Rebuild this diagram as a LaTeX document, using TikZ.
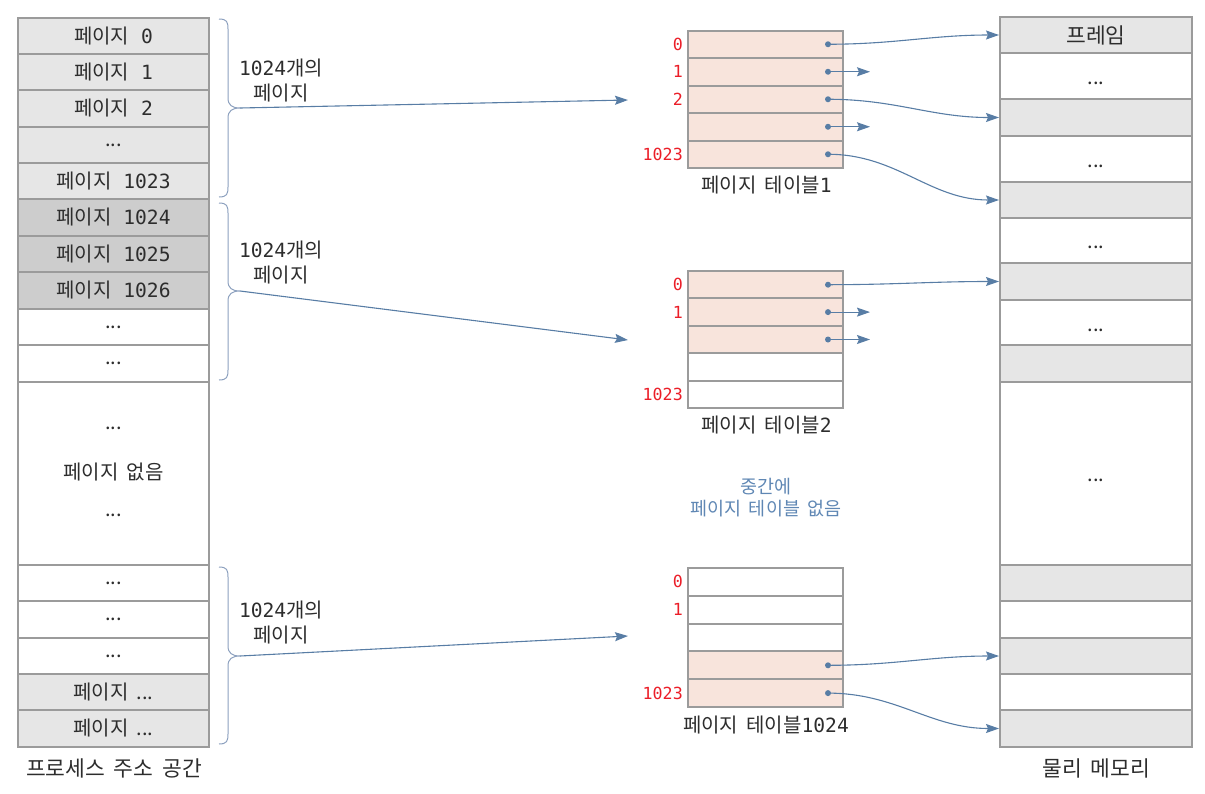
\documentclass[tikz,border=0pt]{standalone}
\usepackage{fontspec}
\setmainfont[WordSpace=1.8]{Noto Sans CJK KR}
\newfontfamily\monofnt[Scale=0.98]{DejaVu Sans Mono}
\usetikzlibrary{arrows.meta}
\newcommand\dg[1]{{\monofnt #1}}
\newcommand\pg[1]{페이지{\monofnt\ #1}}
\definecolor{bord}{RGB}{155,155,155}
\definecolor{lg}{RGB}{230,230,230}
\definecolor{dgr}{RGB}{205,205,205}
\definecolor{peach}{RGB}{248,228,220}
\definecolor{ablue}{RGB}{88,125,165}
\definecolor{brc}{RGB}{140,160,190}
\definecolor{mblue}{RGB}{95,135,180}
\definecolor{lred}{RGB}{235,30,40}
\definecolor{txt}{RGB}{45,45,45}
\begin{document}
\begin{tikzpicture}[x=1pt,y=-1pt,
  every node/.style={text=txt,font=\fontsize{20}{25}\selectfont},
  lcell/.style={draw=bord,line width=2pt,inner sep=0pt,minimum width=191pt},
  mcell/.style={draw=bord,line width=2pt,inner sep=0pt,minimum width=192pt},
  tcell/.style={draw=bord,line width=2pt,inner sep=0pt,minimum width=155pt},
  idx/.style={text=lred,anchor=east,inner sep=0pt,font=\fontsize{17}{18}\selectfont\monofnt},
  dotn/.style={circle,fill=ablue,inner sep=0pt,minimum size=6pt},
  arr/.style={draw=ablue,line width=1.1pt,-{Stealth[length=13pt,width=9pt,inset=2pt]}},
  brace/.style={draw=brc,line width=1pt},
  bigcap/.style={font=\fontsize{21.5}{24}\selectfont},
  note/.style={text=mblue,align=center,font=\fontsize{18.5}{22}\selectfont}
]
\useasboundingbox (0,0) rectangle (1205,793);

% ---------- process address space ----------
\node[lcell,fill=lg,minimum height=36pt] (L0) at (113.5,36) {\pg{0}};
\node[lcell,fill=lg,minimum height=36pt] (L1) at (113.5,72) {\pg{1}};
\node[lcell,fill=lg,minimum height=37pt] (L2) at (113.5,108.5) {\pg{2}};
\node[lcell,fill=lg,minimum height=36pt] (L3) at (113.5,145) {...};
\node[lcell,fill=lg,minimum height=36pt] (L4) at (113.5,181) {\pg{1023}};
\node[lcell,fill=dgr,minimum height=37pt] (L5) at (113.5,217.5) {\pg{1024}};
\node[lcell,fill=dgr,minimum height=36pt] (L6) at (113.5,254) {\pg{1025}};
\node[lcell,fill=dgr,minimum height=37pt] (L7) at (113.5,290.5) {\pg{1026}};
\node[lcell,fill=white,minimum height=36pt] (L8) at (113.5,327) {...};
\node[lcell,fill=white,minimum height=37pt] (L9) at (113.5,363.5) {...};
\node[lcell,fill=white,minimum height=183pt] (L10) at (113.5,473.5) {};
\node (L10a) at (113.5,428) {...};
\node (L10b) at (113.5,472) {페이지 없음};
\node (L10c) at (113.5,515) {...};
\node[lcell,fill=white,minimum height=36pt] (L11) at (113.5,583) {...};
\node[lcell,fill=white,minimum height=37pt] (L12) at (113.5,619.5) {...};
\node[lcell,fill=white,minimum height=36pt] (L13) at (113.5,656) {...};
\node[lcell,fill=lg,minimum height=36pt] (L14) at (113.5,692) {페이지 ...};
\node[lcell,fill=lg,minimum height=37pt] (L15) at (113.5,728.5) {페이지 ...};
\node[bigcap] (Lcap) at (114,768) {프로세스 주소 공간};

% ---------- braces ----------
\foreach \t/\m/\b/\n in {19/108/197/1,203/291/380/2,567/656/744/3}{
  \draw[brace] (219,\t) .. controls (227,\t) and (228,\t+3) .. (228,\t+10)
    -- (228,\m-10) .. controls (228,\m-3) and (232,\m) .. (240,\m)
    .. controls (232,\m) and (228,\m+3) .. (228,\m+10)
    -- (228,\b-10) .. controls (228,\b-3) and (227,\b) .. (219,\b);
  \coordinate (tip\n) at (240,\m);
}
\node[align=center] (G1) at (281,80.5) {\dg{1024}개의\\페이지};
\node[align=center] (G2) at (281,263) {\dg{1024}개의\\페이지};
\node[align=center] (G3) at (281,623) {\dg{1024}개의\\페이지};
\coordinate (e1) at (628,100);
\coordinate (e2) at (628,340);
\coordinate (e3) at (628,636);
\draw[arr] (tip1) -- (e1);
\draw[arr] (tip2) -- (e2);
\draw[arr] (tip3) -- (e3);

% ---------- page table 1 ----------
\node[tcell,fill=peach,minimum height=27.5pt] (A0) at (765.5,44.25) {};
\node[tcell,fill=peach,minimum height=27.5pt] (A1) at (765.5,71.75) {};
\node[tcell,fill=peach,minimum height=27.5pt] (A2) at (765.5,99.25) {};
\node[tcell,fill=peach,minimum height=27.5pt] (A3) at (765.5,126.75) {};
\node[tcell,fill=peach,minimum height=27.5pt] (A4) at (765.5,154.25) {};
\node[idx] at (683,44.25) {0};
\node[idx] at (683,71.75) {1};
\node[idx] at (683,99.25) {2};
\node[idx] at (683,154.25) {1023};
\node (Acap) at (766.5,185) {페이지 테이블\dg{1}};

% ---------- page table 2 ----------
\node[tcell,fill=peach,minimum height=27.4pt] (B0) at (765.5,284.7) {};
\node[tcell,fill=peach,minimum height=27.4pt] (B1) at (765.5,312.1) {};
\node[tcell,fill=peach,minimum height=27.4pt] (B2) at (765.5,339.5) {};
\node[tcell,fill=white,minimum height=27.4pt] (B3) at (765.5,366.9) {};
\node[tcell,fill=white,minimum height=27.4pt] (B4) at (765.5,394.3) {};
\node[idx] at (683,284.7) {0};
\node[idx] at (683,312.1) {1};
\node[idx] at (683,394.3) {1023};
\node (Bcap) at (766.5,425) {페이지 테이블\dg{2}};

\node[note] (mid) at (766,498) {중간에\\페이지 테이블 없음};

% ---------- page table 1024 ----------
\node[tcell,fill=white,minimum height=27.8pt] (C0) at (765.5,581.9) {};
\node[tcell,fill=white,minimum height=27.8pt] (C1) at (765.5,609.7) {};
\node[tcell,fill=white,minimum height=27.8pt] (C2) at (765.5,637.5) {};
\node[tcell,fill=peach,minimum height=27.8pt] (C3) at (765.5,665.3) {};
\node[tcell,fill=peach,minimum height=27.8pt] (C4) at (765.5,693.1) {};
\node[idx] at (683,581.9) {0};
\node[idx] at (683,609.7) {1};
\node[idx] at (683,693.1) {1023};
\node (Ccap) at (766,725) {페이지 테이블\dg{1024}};

% ---------- physical memory ----------
\node[mcell,fill=lg,minimum height=36pt,font=\fontsize{21.5}{24}\selectfont] (M0) at (1096,35) {프레임};
\node[mcell,fill=white,minimum height=46pt] (M1) at (1096,76) {};
\node[mcell,fill=lg,minimum height=37pt] (M2) at (1096,117.5) {};
\node[mcell,fill=white,minimum height=46pt] (M3) at (1096,159) {};
\node[mcell,fill=lg,minimum height=36pt] (M4) at (1096,200) {};
\node[mcell,fill=white,minimum height=45pt] (M5) at (1096,240.5) {};
\node[mcell,fill=lg,minimum height=37pt] (M6) at (1096,281.5) {};
\node[mcell,fill=white,minimum height=45pt] (M7) at (1096,322.5) {};
\node[mcell,fill=lg,minimum height=37pt] (M8) at (1096,363.5) {};
\node[mcell,fill=white,minimum height=183pt] (M9) at (1096,473.5) {};
\node[mcell,fill=lg,minimum height=36pt] (M10) at (1096,583) {};
\node[mcell,fill=white,minimum height=37pt] (M11) at (1096,619.5) {};
\node[mcell,fill=lg,minimum height=36pt] (M12) at (1096,656) {};
\node[mcell,fill=white,minimum height=36pt] (M13) at (1096,692) {};
\node[mcell,fill=lg,minimum height=37pt] (M14) at (1096,728.5) {};
\node (M1t) at (1096,83) {...};
\node (M3t) at (1096,166) {...};
\node (M5t) at (1096,247) {...};
\node (M7t) at (1096,330) {...};
\node (M9t) at (1096,480) {...};
\node[bigcap] (Mcap) at (1096,768) {물리 메모리};

% ---------- pointers ----------
\node[dotn] (a0) at (828,44.25) {};
\node[dotn] (a1) at (828,71.75) {};
\node[dotn] (a2) at (828,99.25) {};
\node[dotn] (a3) at (828,126.75) {};
\node[dotn] (a4) at (828,154.25) {};
\node[dotn] (b0) at (828,284.7) {};
\node[dotn] (b1) at (828,312.1) {};
\node[dotn] (b2) at (828,339.5) {};
\node[dotn] (c3) at (828,665.3) {};
\node[dotn] (c4) at (828,693.1) {};
\coordinate (xa1) at (870,71.75);
\coordinate (xa3) at (870,126.75);
\coordinate (xb1) at (870,312.1);
\coordinate (xb2) at (870,339.5);

\draw[arr] (a0.center) to[out=0,in=180] (M0.west);
\draw[arr] (a1.center) -- (xa1);
\draw[arr] (a2.center) to[out=0,in=180] (M2.west);
\draw[arr] (a3.center) -- (xa3);
\draw[arr] (a4.center) to[out=0,in=180] (M4.west);
\draw[arr] (b0.center) to[out=0,in=180] (M6.west);
\draw[arr] (b1.center) -- (xb1);
\draw[arr] (b2.center) -- (xb2);
\draw[arr] (c3.center) to[out=0,in=180] (M12.west);
\draw[arr] (c4.center) to[out=0,in=180] (M14.west);
\end{tikzpicture}
\end{document}
